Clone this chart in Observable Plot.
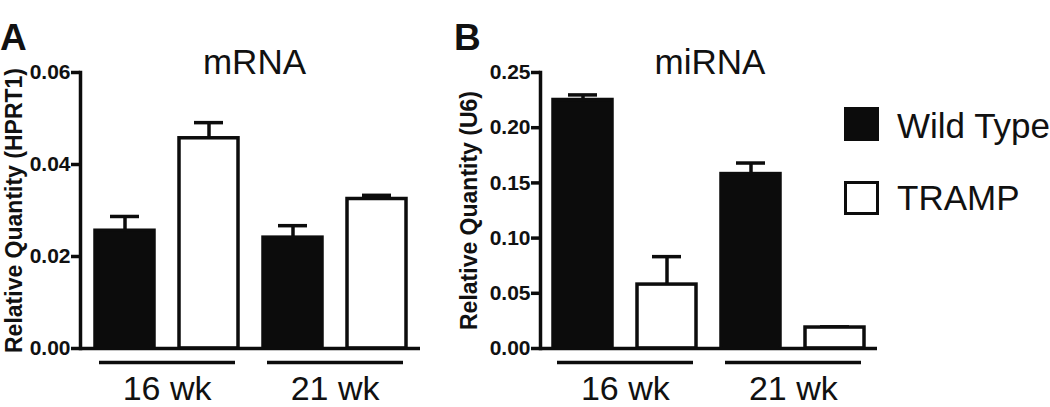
<!DOCTYPE html>
<html><head><meta charset="utf-8">
<script src="https://cdn.jsdelivr.net/npm/d3@7"></script>
<script src="https://cdn.jsdelivr.net/npm/@observablehq/plot@0.6"></script>
<style>
body{margin:0;background:#fff;}
#wrap{position:relative;width:1050px;height:407px;overflow:hidden;font-family:"Liberation Sans",Arial,Helvetica,sans-serif;color:#111;background:#fff;}
.panel{position:absolute;top:0;}
.lab{position:absolute;font-weight:bold;font-size:37px;line-height:1;}
.leg{position:absolute;font-size:35px;line-height:1;white-space:nowrap;}
.sw{position:absolute;box-sizing:border-box;}
</style></head><body><div id="wrap"></div>
<script>
// ---- data ----
const weeks = ["16 wk", "21 wk"];
const genotypes = ["Wild Type", "TRAMP"];
const genotypeFill = ["#0c0c0c", "#ffffff"];
const panelLetters = ["A", "B"];
const panelTitles = ["mRNA", "miRNA"];
const yLabels = ["Relative Quantity (HPRT1)", "Relative Quantity (U6)"];
// order: 16 wk WT, 16 wk TRAMP, 21 wk WT, 21 wk TRAMP
const mrnaMean = [0.0256, 0.0457, 0.0241, 0.0325];
const mrnaSem  = [0.0031, 0.0034, 0.0026, 0.0008];
const mirnaMean = [0.2251, 0.0579, 0.158, 0.019];
const mirnaSem  = [0.0046, 0.0253, 0.0100, 0.0006];
const mrnaTicks = [0, 0.02, 0.04, 0.06];
const mirnaTicks = [0, 0.05, 0.10, 0.15, 0.20, 0.25];

const INK = "#0c0c0c";
const FONT = '"Liberation Sans", Arial, Helvetica, sans-serif';
const SW = 3.5;

function rowsFor(means, sems) {
  const rows = [];
  let i = 0;
  for (const w of weeks) for (const g of genotypes) {
    rows.push({week: w, genotype: g, key: w + "|" + g, mean: means[i], top: means[i] + sems[i]});
    i++;
  }
  return rows;
}

function panel({title, yLabel, means, sems, ticks, width, marginLeft, marginRight, paddingOuter, labelOffset, titleDx}) {
  const rows = rowsFor(means, sems);
  const keys = rows.map(d => d.key);
  const PI = 0.3;
  const step = (width - marginLeft - marginRight) / (keys.length - PI + 2 * paddingOuter);
  return Plot.plot({
    width, height: 407, marginLeft, marginRight, marginTop: 72, marginBottom: 59,
    style: {fontFamily: FONT, color: "#111", background: "transparent", overflow: "visible"},
    x: {domain: keys, paddingInner: PI, paddingOuter, axis: null},
    y: {domain: [0, ticks[ticks.length - 1]], axis: null},
    color: {domain: genotypes, range: genotypeFill},
    marks: [
      Plot.axisY({ticks, tickFormat: d => d.toFixed(2), tickSize: 9, tickPadding: 1, strokeWidth: SW, stroke: INK,
        fontSize: 21, fontWeight: "bold", label: null}),
      Plot.text([yLabel], {frameAnchor: "left", textAnchor: "middle", rotate: -90, dx: -labelOffset, lineAnchor: "top",
        fontSize: 23, fontWeight: "bold"}),
      Plot.text([title], {frameAnchor: "top", lineAnchor: "bottom", dy: 1, dx: titleDx, fontSize: 35}),
      Plot.ruleX(rows, {x: "key", y1: "mean", y2: "top", stroke: INK, strokeWidth: SW}),
      Plot.tickY(rows, {x: "key", y: "top", stroke: INK, strokeWidth: SW, insetLeft: 15, insetRight: 15}),
      Plot.barY(rows, {x: "key", y: "mean", fill: "genotype", stroke: INK, strokeWidth: SW}),
      Plot.frame({anchor: "left", stroke: INK, strokeWidth: SW}),
      Plot.ruleY([0], {stroke: INK, strokeWidth: SW}),
      Plot.ruleY(weeks, {x1: d => d + "|" + genotypes[0], x2: d => d + "|" + genotypes[1], y: () => 0,
        dy: 14, stroke: INK, strokeWidth: SW, insetLeft: 4, insetRight: 3}),
      Plot.text(weeks, {x: d => d + "|" + genotypes[0], y: () => 0, text: d => d, dx: step / 2, dy: 41, fontSize: 34})
    ]
  });
}

const wrap = document.getElementById("wrap");
const pA = panel({title: panelTitles[0], yLabel: yLabels[0], means: mrnaMean, sems: mrnaSem, ticks: mrnaTicks,
  width: 440, marginLeft: 80, marginRight: 20, paddingOuter: 0.17, labelOffset: 75, titleDx: 4});
pA.classList.add("panel"); pA.style.left = "0px";
wrap.appendChild(pA);
const pB = panel({title: panelTitles[1], yLabel: yLabels[1], means: mirnaMean, sems: mirnaSem, ticks: mirnaTicks,
  width: 440, marginLeft: 100, marginRight: 3, paddingOuter: 0.14, labelOffset: 80, titleDx: 1});
pB.classList.add("panel"); pB.style.left = "440px";
wrap.appendChild(pB);

// panel letters
[[panelLetters[0], 0], [panelLetters[1], 454]].forEach(([t, x]) => {
  const d = document.createElement("div");
  d.className = "lab"; d.textContent = t; d.style.left = x + "px"; d.style.top = "19px";
  wrap.appendChild(d);
});

// legend
genotypes.forEach((g, i) => {
  const sw = document.createElement("div");
  sw.className = "sw";
  sw.style.left = "844px";
  sw.style.top = (i === 0 ? 107 : 181) + "px";
  sw.style.width = "35px"; sw.style.height = "34px";
  sw.style.background = genotypeFill[i];
  sw.style.border = SW + "px solid " + INK;
  wrap.appendChild(sw);
  const t = document.createElement("div");
  t.className = "leg"; t.textContent = g;
  t.style.left = "897px"; t.style.top = (i === 0 ? 107.5 : 179.5) + "px";
  wrap.appendChild(t);
});
</script></body></html>
